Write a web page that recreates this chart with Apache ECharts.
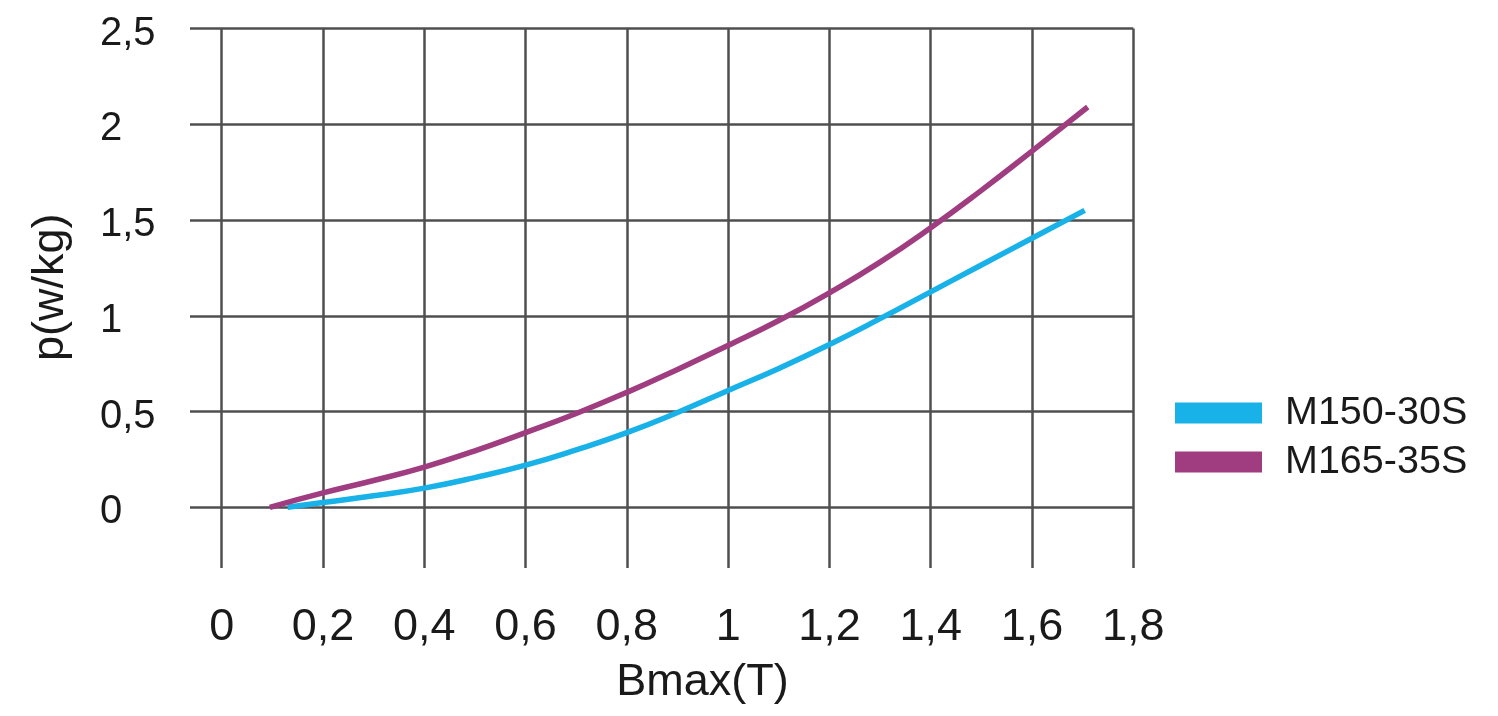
<!DOCTYPE html>
<html>
<head>
<meta charset="utf-8">
<script src="https://cdn.jsdelivr.net/npm/echarts@6/dist/echarts.min.js"></script>
<style>
html,body{margin:0;padding:0;background:#fff;}
#chart{width:1498px;height:716px;}
</style>
</head>
<body>
<div id="chart"></div>
<script>
// ---- data ----
const seriesNames = ['M150-30S', 'M165-35S'];
const xM150 = [0.13, 0.2, 0.3, 0.4, 0.5, 0.6, 0.7, 0.8, 0.9, 1.0, 1.1, 1.2, 1.3, 1.4, 1.5, 1.6, 1.704];
const yM150 = [0, 0.025, 0.06, 0.10, 0.155, 0.22, 0.30, 0.39, 0.495, 0.61, 0.725, 0.85, 0.985, 1.125, 1.265, 1.405, 1.55];
const xM165 = [0.095, 0.2, 0.3, 0.4, 0.5, 0.6, 0.7, 0.8, 0.9, 1.0, 1.1, 1.2, 1.3, 1.4, 1.5, 1.6, 1.71];
const yM165 = [0, 0.075, 0.14, 0.21, 0.295, 0.39, 0.49, 0.60, 0.72, 0.845, 0.975, 1.12, 1.28, 1.46, 1.655, 1.86, 2.09];
const xTickLabels = ['0', '0,2', '0,4', '0,6', '0,8', '1', '1,2', '1,4', '1,6', '1,8'];
const yTickLabels = ['0', '0,5', '1', '1,5', '2', '2,5'];
const xName = 'Bmax(T)';
const yName = 'p(w/kg)';
const colors = ['#19b2e8', '#a03d80'];

const FONT = 'Liberation Sans, Arial, sans-serif';
const pairs = (xs, ys) => xs.map((x, i) => [x, ys[i]]);
const gridColor = '#4f4f4f';

const chart = echarts.init(document.getElementById('chart'));
chart.setOption({
  backgroundColor: '#ffffff',
  animation: false,
  textStyle: { fontFamily: FONT },
  grid: [
    { left: 221.7, right: 364.7, top: 28.5, bottom: 148, containLabel: false },
    { left: 190, right: 364.7, top: 28.5, bottom: 208.7, containLabel: false }
  ],
  xAxis: [
    {
      gridIndex: 0, type: 'value', min: 0, max: 1.8, interval: 0.2,
      axisLine: { show: false }, axisTick: { show: false },
      splitLine: { show: true, lineStyle: { color: gridColor, width: 2.5 } },
      axisLabel: {
        margin: 37, fontSize: 45, color: '#1a1a1a', fontFamily: FONT,
        formatter: (v) => xTickLabels[Math.round(v / 0.2)]
      },
      name: xName, nameLocation: 'middle', nameGap: 92,
      nameTextStyle: { fontSize: 45, color: '#1a1a1a', fontFamily: FONT, padding: [0, 0, 0, 50] }
    },
    {
      gridIndex: 1, type: 'value', min: 0, max: 1.8, show: false
    }
  ],
  yAxis: [
    {
      gridIndex: 0, type: 'value', min: -0.317, max: 2.5,
      axisLine: { show: false }, axisTick: { show: false },
      axisLabel: { show: false }, splitLine: { show: false },
      name: yName, nameLocation: 'middle', nameRotate: 90, nameGap: 149,
      nameTextStyle: { fontSize: 45, color: '#1a1a1a', fontFamily: FONT, padding: [0, 0, 0, 22] }
    },
    {
      gridIndex: 1, type: 'value', min: 0, max: 2.5, interval: 0.5,
      axisLine: { show: false }, axisTick: { show: false },
      splitLine: { show: true, lineStyle: { color: gridColor, width: 2.5 } },
      axisLabel: {
        margin: 90, align: 'left', fontSize: 40, color: '#1a1a1a', fontFamily: FONT,
        formatter: (v) => '{a|' + yTickLabels[Math.round(v / 0.5)] + '}',
        rich: { a: { fontSize: 40, color: '#1a1a1a', fontFamily: FONT, padding: [10, 0, 0, 0] } }
      }
    }
  ],
  legend: {
    orient: 'vertical', left: 1175, top: 393, padding: 0,
    itemWidth: 87, itemHeight: 21, itemGap: 9,
    textStyle: { fontSize: 39.5, lineHeight: 38, color: '#1a1a1a', fontFamily: FONT, padding: [0, 0, 0, 18] },
    data: seriesNames.map(n => ({ name: n, icon: 'rect' }))
  },
  series: [
    {
      name: seriesNames[0], type: 'line', xAxisIndex: 0, yAxisIndex: 0,
      data: pairs(xM150, yM150), smooth: 0.5, showSymbol: false,
      lineStyle: { color: colors[0], width: 5.5 }, itemStyle: { color: colors[0] }
    },
    {
      name: seriesNames[1], type: 'line', xAxisIndex: 0, yAxisIndex: 0,
      data: pairs(xM165, yM165), smooth: 0.5, showSymbol: false,
      lineStyle: { color: colors[1], width: 5.5 }, itemStyle: { color: colors[1] }
    }
  ]
});
</script>
</body>
</html>
